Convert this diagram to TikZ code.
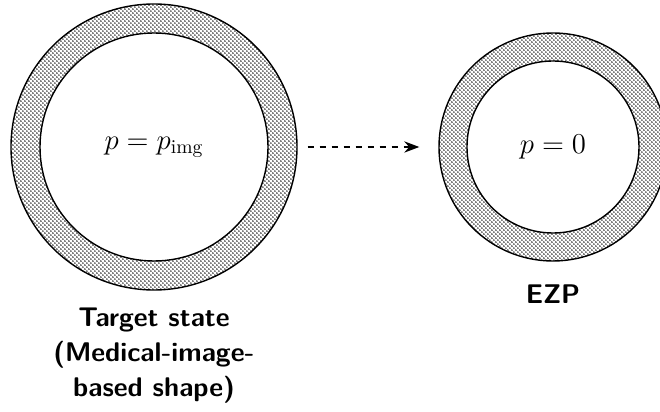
\documentclass[tikz,border=0pt]{standalone}
\usepackage{amsmath}
\usepackage{tikz}
\usetikzlibrary{patterns,patterns.meta,arrows.meta,positioning}
\tikzdeclarepattern{
  name=fine dots,
  type=uncolored,
  bottom left={(0pt,0pt)},
  top right={(2.2pt,2.2pt)},
  tile size={(2.2pt,2.2pt)},
  code={
    \fill (0.55pt,0.55pt) circle (0.45pt);
    \fill (1.65pt,1.65pt) circle (0.45pt);
  }
}
\tikzset{
  every picture/.style={
    line join=round,
    >=Stealth,
  },
  ring/.style={circle, draw, line width=0.7pt, pattern=fine dots, inner sep=0pt},
  core/.style={circle, draw, line width=0.7pt, fill=white, inner sep=0pt,
    font=\fontsize{14}{17}\selectfont},
  caption/.style={font=\sffamily\bfseries\fontsize{13.5}{17.5}\selectfont, align=center},
}

\begin{document}
\begin{tikzpicture}[x=0.5pt,y=0.5pt]
    \useasboundingbox (0,0) rectangle (660,412);
    % Target ring
    \node[ring, minimum size=143pt] (target) at (154,265) {};
    \node[core, minimum size=114pt] (targetIn) at (target) {$p = p_{\text{img}}$};
    % EZP ring
    \node[ring, minimum size=114pt] (ezp) at (553,265) {};
    \node[core, minimum size=86pt] (ezpIn) at (ezp) {$p = 0$};
    % Dashed transition
    \draw[dashed, line width=1pt, ->, shorten <=5pt, shorten >=9.5pt] (target) -- (ezp);
    % Captions
    \node[caption, below=5pt of target] (targetCap) {Target state\\(Medical-image-\\based shape)};
    \node[caption, below=8pt of ezp] (ezpCap) {EZP};
\end{tikzpicture}
\end{document}
